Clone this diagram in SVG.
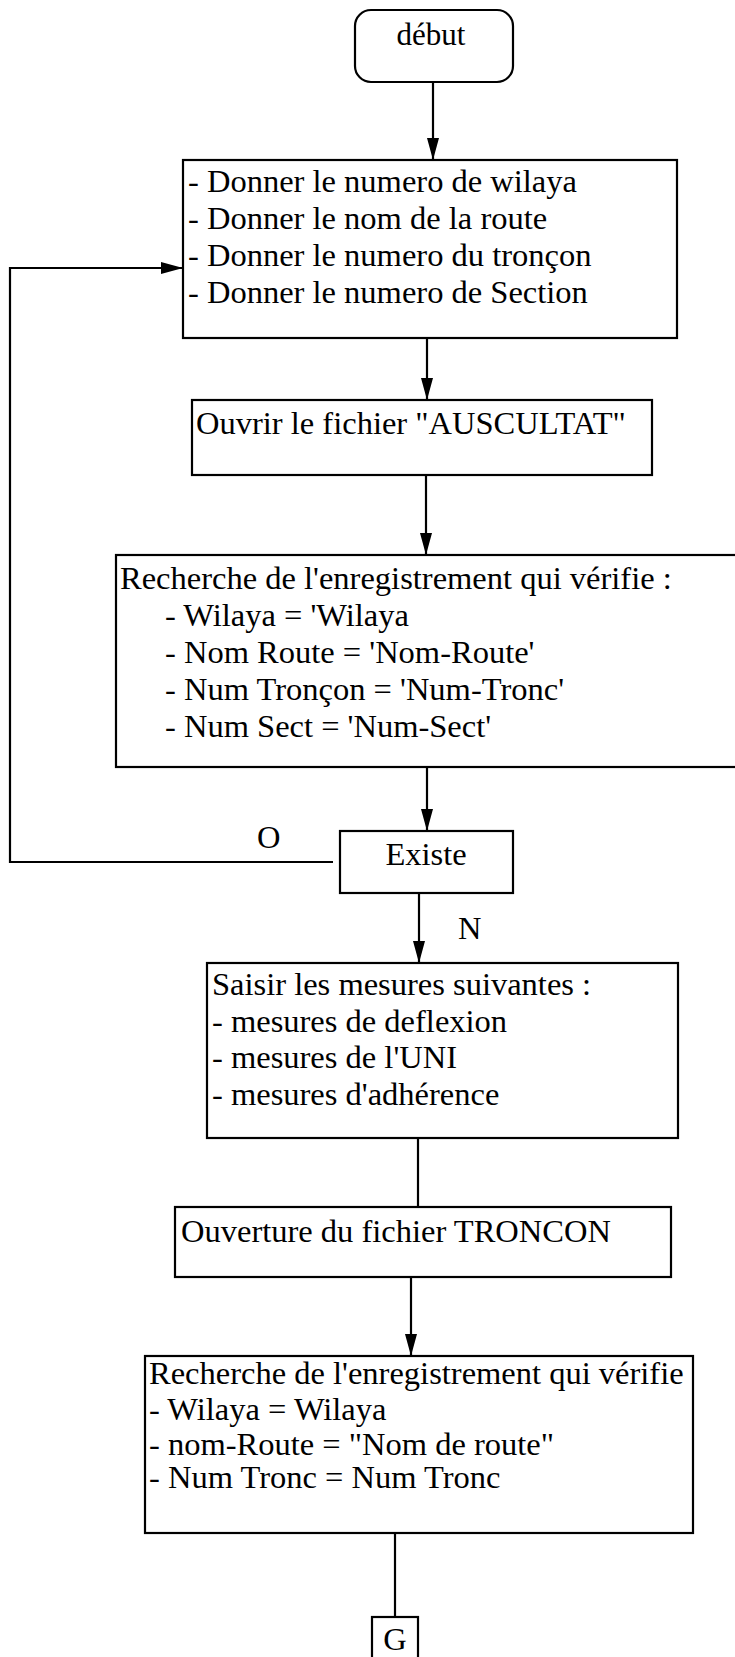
<svg xmlns="http://www.w3.org/2000/svg" width="735" height="1657" viewBox="0 0 735 1657">
<style>
.box{fill:#fff;stroke:#000;stroke-width:2.2}
.t{font-family:"Liberation Serif","Times New Roman",serif;font-size:32.5px;fill:#000}
.c{fill:none;stroke:#000;stroke-width:2.2}
</style>
<defs>
<marker id="ah" markerWidth="22" markerHeight="12" refX="22" refY="6" orient="auto" markerUnits="userSpaceOnUse">
<path d="M0,0 L22,6 L0,12 z" fill="#000"/>
</marker>
</defs>
<rect width="735" height="1657" fill="#fff"/>
<g id="connectors">
<line class="c" x1="433" y1="82" x2="433" y2="160" marker-end="url(#ah)"/>
<line class="c" x1="427" y1="338" x2="427" y2="400" marker-end="url(#ah)"/>
<line class="c" x1="426" y1="475" x2="426" y2="555" marker-end="url(#ah)"/>
<line class="c" x1="427" y1="767" x2="427" y2="831" marker-end="url(#ah)"/>
<polyline class="c" points="333,862 10,862 10,268 183,268" marker-end="url(#ah)"/>
<line class="c" x1="419" y1="893" x2="419" y2="963" marker-end="url(#ah)"/>
<line class="c" x1="418" y1="1138" x2="418" y2="1207"/>
<line class="c" x1="411" y1="1277" x2="411" y2="1356" marker-end="url(#ah)"/>
<line class="c" x1="395" y1="1533" x2="395" y2="1617"/>
<text class="t" x="257" y="848">O</text>
<text class="t" x="458" y="939">N</text>
</g>
<g id="debut">
<rect class="box" x="355" y="10" width="158" height="72" rx="16" ry="16"/>
<text class="t" x="431" y="45" text-anchor="middle" style="font-size:31px">début</text>
</g>
<g id="saisie-identifiants">
<rect class="box" x="183" y="160" width="494" height="178"/>
<text class="t" x="188" y="192">- Donner le numero de wilaya</text>
<text class="t" x="188" y="229">- Donner le nom de la route</text>
<text class="t" x="188" y="266">- Donner le numero du tronçon</text>
<text class="t" x="188" y="303">- Donner le numero de Section</text>
</g>
<g id="ouvrir-auscultat">
<rect class="box" x="192" y="400" width="460" height="75"/>
<text class="t" x="196" y="434">Ouvrir le fichier "AUSCULTAT"</text>
</g>
<g id="recherche-auscultat">
<rect class="box" x="116" y="555" width="630" height="212"/>
<text class="t" x="120" y="589">Recherche de l'enregistrement qui vérifie :</text>
<text class="t" x="165" y="626">- Wilaya = 'Wilaya</text>
<text class="t" x="165" y="663">- Nom Route = 'Nom-Route'</text>
<text class="t" x="165" y="700">- Num Tronçon = 'Num-Tronc'</text>
<text class="t" x="165" y="737">- Num Sect = 'Num-Sect'</text>
</g>
<g id="existe">
<rect class="box" x="340" y="831" width="173" height="62"/>
<text class="t" x="426" y="865" text-anchor="middle">Existe</text>
</g>
<g id="saisir-mesures">
<rect class="box" x="207" y="963" width="471" height="175"/>
<text class="t" x="212" y="995">Saisir les mesures suivantes :</text>
<text class="t" x="212" y="1032">- mesures de deflexion</text>
<text class="t" x="212" y="1068">- mesures de l'UNI</text>
<text class="t" x="212" y="1105">- mesures d'adhérence</text>
</g>
<g id="ouverture-troncon">
<rect class="box" x="175" y="1207" width="496" height="70"/>
<text class="t" x="181" y="1242">Ouverture du fichier TRONCON</text>
</g>
<g id="recherche-troncon">
<rect class="box" x="145" y="1356" width="548" height="177"/>
<text class="t" x="149" y="1384">Recherche de l'enregistrement qui vérifie</text>
<text class="t" x="149" y="1420">- Wilaya = Wilaya</text>
<text class="t" x="149" y="1455">- nom-Route = "Nom de route"</text>
<text class="t" x="149" y="1488">- Num Tronc = Num Tronc</text>
</g>
<g id="renvoi-G">
<rect class="box" x="372" y="1617" width="46" height="50"/>
<text class="t" x="395" y="1650" text-anchor="middle">G</text>
</g>
</svg>
